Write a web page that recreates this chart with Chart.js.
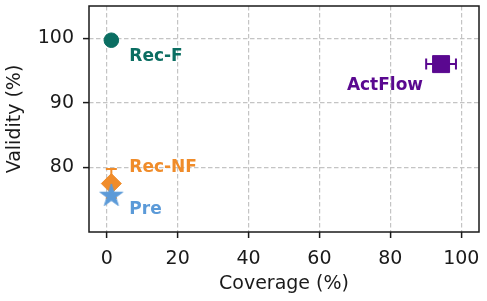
<!DOCTYPE html>
<html>
<head>
<meta charset="utf-8">
<script src="https://cdn.jsdelivr.net/npm/chart.js@4.4.0/dist/chart.umd.min.js"></script>
<style>
    html, body { margin: 0; padding: 0; background: #fff; }
    #wrap { width: 487px; height: 301px; }
</style>
</head>
<body>
<div id="wrap"><canvas id="chart" width="487" height="301"></canvas></div>
<script>
// Data
const methods = ['Rec-F', 'Rec-NF', 'Pre', 'ActFlow'];
const coverage = [1.3, 1.3, 1.3, 94.3];
const coverageErr = [0, 0, 0, 4.2];
const validity = [99.7, 77.5, 75.6, 96.0];
const validityErr = [0, 2.25, 0, 0];
const xTicks = [0, 20, 40, 60, 80, 100];
const yTicks = [80, 90, 100];
const xRange = [-5, 105];
const yRange = [70, 105];

// Styling
const colors = ['#0b6e62', '#f08c2a', '#5b9ad8', '#5a0890'];
const radii = [7.3, 10, 12, 12];
const drawOrder = [2, 1, 0, 3];
// label offset from the marker in px: [dx, dy, align]
const labelOffsets = [[18, 16, 'left'], [18, -16, 'left'], [18, 14, 'left'], [-18, 21, 'right']];
const FONT = "'DejaVu Sans', sans-serif";
const INK = '#1a1a1a';

// Filled 5-point star (matplotlib '*' style)
function makeStar(r, color) {
    const c = document.createElement('canvas');
    const s = Math.ceil(r * 2 + 4);
    c.width = s; c.height = s;
    const ctx = c.getContext('2d');
    const cx = s / 2, cy = s / 2, inner = r * 0.382;
    ctx.beginPath();
    for (let k = 0; k < 10; k++) {
        const rad = k % 2 === 0 ? r : inner;
        const a = -Math.PI / 2 + k * Math.PI / 5;
        const px = cx + rad * Math.cos(a), py = cy + rad * Math.sin(a);
        if (k === 0) ctx.moveTo(px, py); else ctx.lineTo(px, py);
    }
    ctx.closePath();
    ctx.fillStyle = color;
    ctx.fill();
    ctx.lineWidth = 1;
    ctx.strokeStyle = color;
    ctx.stroke();
    return c;
}

const markers = ['circle', 'rectRot', makeStar(radii[2], colors[2]), 'rect'];

// Error bars drawn through the chart scales
const errorBars = {
    id: 'errorBars',
    beforeDatasetsDraw(chart) {
        const { ctx, scales: { x, y } } = chart;
        const cap = 5.5;
        ctx.save();
        ctx.lineWidth = 2;
        methods.forEach((m, i) => {
            ctx.strokeStyle = colors[i];
            const px = x.getPixelForValue(coverage[i]);
            const py = y.getPixelForValue(validity[i]);
            if (coverageErr[i] > 0) {
                const x0 = x.getPixelForValue(coverage[i] - coverageErr[i]);
                const x1 = x.getPixelForValue(coverage[i] + coverageErr[i]);
                ctx.beginPath();
                ctx.moveTo(x0, py); ctx.lineTo(x1, py);
                ctx.moveTo(x0, py - cap); ctx.lineTo(x0, py + cap);
                ctx.moveTo(x1, py - cap); ctx.lineTo(x1, py + cap);
                ctx.stroke();
            }
            if (validityErr[i] > 0) {
                const y0 = y.getPixelForValue(validity[i] - validityErr[i]);
                const y1 = y.getPixelForValue(validity[i] + validityErr[i]);
                ctx.beginPath();
                ctx.moveTo(px, y0); ctx.lineTo(px, y1);
                ctx.moveTo(px - cap, y0); ctx.lineTo(px + cap, y0);
                ctx.moveTo(px - cap, y1); ctx.lineTo(px + cap, y1);
                ctx.stroke();
            }
        });
        ctx.restore();
    }
};

// Method names next to the markers
const pointLabels = {
    id: 'pointLabels',
    afterDatasetsDraw(chart) {
        const { ctx } = chart;
        ctx.save();
        ctx.font = 'bold 17px ' + FONT;
        ctx.textBaseline = 'middle';
        methods.forEach((m, i) => {
            const pt = chart.getDatasetMeta(i).data[0];
            const [dx, dy, align] = labelOffsets[i];
            ctx.textAlign = align;
            ctx.fillStyle = colors[i];
            ctx.fillText(m, pt.x + dx, pt.y + dy);
        });
        ctx.restore();
    }
};

// Full box around the plot area
const frame = {
    id: 'frame',
    afterDraw(chart) {
        const { ctx, chartArea: a } = chart;
        ctx.save();
        ctx.strokeStyle = INK;
        ctx.lineWidth = 1.5;
        ctx.strokeRect(a.left, a.top, a.right - a.left, a.bottom - a.top);
        ctx.restore();
    }
};

const gridOpts = {
    color: '#c4c4c4',
    lineWidth: 1.2,
    tickColor: INK,
    tickWidth: 1.5,
    tickLength: 6,
    tickBorderDash: []
};

function noEdgePadding(s) {
    s.paddingTop = 0; s.paddingBottom = 0;
    s.paddingLeft = 0; s.paddingRight = 0;
}

new Chart(document.getElementById('chart'), {
    type: 'scatter',
    data: {
        datasets: methods.map((m, i) => ({
            label: m,
            data: [{ x: coverage[i], y: validity[i] }],
            pointStyle: markers[i],
            pointRadius: radii[i],
            backgroundColor: colors[i],
            borderColor: colors[i],
            borderWidth: 1,
            order: drawOrder[i]
        }))
    },
    options: {
        responsive: false,
        animation: false,
        devicePixelRatio: 1,
        layout: { autoPadding: false, padding: { top: 6, right: 8, left: 0, bottom: 0 } },
        plugins: { legend: { display: false }, tooltip: { enabled: false } },
        scales: {
            x: {
                type: 'linear',
                min: xRange[0],
                max: xRange[1],
                afterBuildTicks: s => { s.ticks = xTicks.map(v => ({ value: v })); },
                afterFit: s => { s.height = 69; noEdgePadding(s); },
                border: { display: false, dash: [4.5, 2.5] },
                grid: gridOpts,
                ticks: { color: INK, font: { family: FONT, size: 19 }, padding: 10, maxRotation: 0 },
                title: { display: true, text: 'Coverage (%)', color: INK, font: { family: FONT, size: 19 }, padding: { top: 0, bottom: 6 } }
            },
            y: {
                type: 'linear',
                min: yRange[0],
                max: yRange[1],
                afterBuildTicks: s => { s.ticks = yTicks.map(v => ({ value: v })); },
                afterFit: s => { s.width = 89; noEdgePadding(s); },
                border: { display: false, dash: [4.5, 2.5] },
                grid: gridOpts,
                ticks: { color: INK, font: { family: FONT, size: 19 }, padding: 9 },
                title: { display: true, text: 'Validity (%)', color: INK, font: { family: FONT, size: 19 }, padding: { top: 4, bottom: 0 } }
            }
        }
    },
    plugins: [errorBars, pointLabels, frame]
});
</script>
</body>
</html>
